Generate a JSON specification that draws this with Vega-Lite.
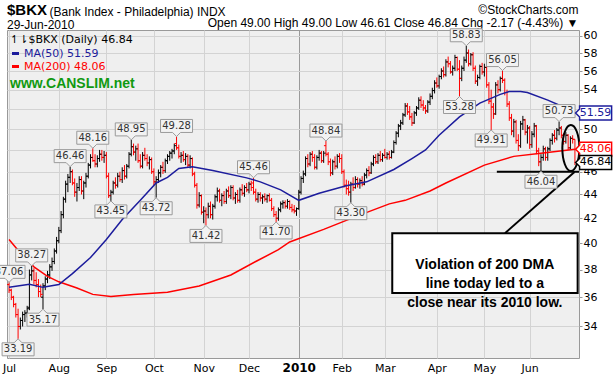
{
"$schema":"https://vega.github.io/schema/vega-lite/v6.json",
"width":572,"height":328,
"autosize":{"type":"none"},
"padding":{"left":7,"top":30,"right":36,"bottom":17},
"background":"white",
"config":{"view":{"fill":"#efefef","stroke":"#999999","strokeWidth":1}},
"title":{"text":"$BKX","subtitle":"29-Jun-2010","anchor":"start","frame":"group","font":"Liberation Sans","fontSize":15,"fontWeight":"bold","color":"#000000","subtitleFont":"Liberation Sans","subtitleFontSize":12,"subtitleColor":"#000000","subtitlePadding":2,"offset":0,"dy":28},
"datasets":{
"ohlc":[
{"i":0,"o":36.9,"h":37.06,"l":36.3,"c":36.5},{"i":1,"o":36.5,"h":36.6,"l":35.8,"c":36.0},{"i":2,"o":36.0,"h":36.1,"l":35.3,"c":35.5},{"i":3,"o":35.5,"h":35.6,"l":34.6,"c":34.8},{"i":4,"o":34.8,"h":35.2,"l":33.19,"c":34.0},{"i":5,"o":34.0,"h":34.6,"l":33.8,"c":34.4},{"i":6,"o":34.4,"h":35.0,"l":34.0,"c":34.8},{"i":7,"o":34.8,"h":35.1,"l":34.3,"c":34.9},{"i":8,"o":34.9,"h":35.4,"l":34.6,"c":35.2},{"i":9,"o":35.3,"h":38.0,"l":35.1,"c":37.6},
{"i":10,"o":37.6,"h":38.27,"l":37.2,"c":37.9},{"i":11,"o":37.9,"h":38.1,"l":36.9,"c":37.2},{"i":12,"o":37.2,"h":37.8,"l":36.7,"c":36.9},{"i":13,"o":36.9,"h":37.3,"l":36.0,"c":36.4},{"i":14,"o":36.4,"h":36.9,"l":36.0,"c":36.2},{"i":15,"o":36.0,"h":37.0,"l":35.17,"c":36.8},{"i":16,"o":36.8,"h":37.5,"l":36.5,"c":37.3},{"i":17,"o":37.3,"h":37.9,"l":37.0,"c":37.6},{"i":18,"o":37.6,"h":38.4,"l":37.3,"c":38.2},{"i":19,"o":38.2,"h":38.9,"l":37.9,"c":38.6},
{"i":20,"o":38.6,"h":39.6,"l":38.4,"c":39.4},{"i":21,"o":39.4,"h":40.5,"l":39.2,"c":40.2},{"i":22,"o":40.2,"h":41.3,"l":40.0,"c":41.0},{"i":23,"o":41.0,"h":42.6,"l":40.8,"c":42.3},{"i":24,"o":42.3,"h":43.8,"l":42.0,"c":43.6},{"i":25,"o":43.6,"h":45.2,"l":43.3,"c":44.9},{"i":26,"o":44.9,"h":45.8,"l":44.2,"c":45.5},{"i":27,"o":45.5,"h":46.46,"l":45.0,"c":46.0},{"i":28,"o":46.0,"h":46.2,"l":44.8,"c":45.0},{"i":29,"o":45.0,"h":45.4,"l":43.8,"c":44.2},
{"i":30,"o":44.2,"h":45.0,"l":43.4,"c":44.6},{"i":31,"o":44.6,"h":45.6,"l":44.3,"c":45.3},{"i":32,"o":45.3,"h":45.6,"l":44.0,"c":44.3},{"i":33,"o":44.3,"h":45.2,"l":43.6,"c":45.0},{"i":34,"o":45.0,"h":45.9,"l":44.6,"c":45.6},{"i":35,"o":45.6,"h":46.8,"l":45.4,"c":46.6},{"i":36,"o":46.6,"h":47.6,"l":46.3,"c":47.3},{"i":37,"o":47.3,"h":48.16,"l":46.9,"c":47.0},{"i":38,"o":47.0,"h":47.6,"l":46.4,"c":46.7},{"i":39,"o":46.7,"h":47.5,"l":46.4,"c":47.2},
{"i":40,"o":47.2,"h":48.0,"l":46.9,"c":47.6},{"i":41,"o":47.6,"h":48.0,"l":47.0,"c":47.3},{"i":42,"o":47.3,"h":47.9,"l":46.8,"c":47.5},{"i":43,"o":47.5,"h":47.8,"l":45.4,"c":45.6},{"i":44,"o":45.6,"h":45.9,"l":43.7,"c":43.9},{"i":45,"o":43.9,"h":44.4,"l":43.45,"c":44.2},{"i":46,"o":44.2,"h":45.2,"l":44.0,"c":45.0},{"i":47,"o":45.0,"h":45.5,"l":44.5,"c":44.8},{"i":48,"o":44.8,"h":45.9,"l":44.6,"c":45.6},{"i":49,"o":45.6,"h":46.0,"l":45.1,"c":45.3},
{"i":50,"o":45.3,"h":46.4,"l":45.0,"c":46.1},{"i":51,"o":46.1,"h":46.6,"l":45.3,"c":45.6},{"i":52,"o":45.6,"h":46.7,"l":45.4,"c":46.5},{"i":53,"o":46.5,"h":47.8,"l":46.3,"c":47.6},{"i":54,"o":47.6,"h":48.95,"l":47.4,"c":48.3},{"i":55,"o":48.3,"h":48.6,"l":47.5,"c":47.8},{"i":56,"o":47.8,"h":48.4,"l":47.0,"c":48.1},{"i":57,"o":48.1,"h":48.6,"l":46.8,"c":47.0},{"i":58,"o":47.0,"h":47.6,"l":46.3,"c":46.5},{"i":59,"o":46.5,"h":47.8,"l":46.3,"c":47.5},
{"i":60,"o":47.5,"h":48.2,"l":47.0,"c":47.2},{"i":61,"o":47.2,"h":47.6,"l":46.5,"c":46.8},{"i":62,"o":46.8,"h":47.4,"l":46.2,"c":47.1},{"i":63,"o":47.1,"h":47.3,"l":45.8,"c":46.0},{"i":64,"o":46.0,"h":46.3,"l":44.8,"c":45.1},{"i":65,"o":45.1,"h":45.6,"l":43.72,"c":45.3},{"i":66,"o":45.3,"h":46.2,"l":45.0,"c":45.9},{"i":67,"o":45.9,"h":46.6,"l":45.5,"c":46.4},{"i":68,"o":46.4,"h":46.9,"l":45.8,"c":46.1},{"i":69,"o":46.1,"h":47.2,"l":45.9,"c":47.0},
{"i":70,"o":47.0,"h":47.6,"l":46.7,"c":47.4},{"i":71,"o":47.4,"h":47.9,"l":47.0,"c":47.7},{"i":72,"o":47.7,"h":48.1,"l":47.2,"c":47.9},{"i":73,"o":47.9,"h":48.6,"l":47.6,"c":48.4},{"i":74,"o":48.6,"h":49.28,"l":48.0,"c":48.2},{"i":75,"o":48.2,"h":48.5,"l":47.2,"c":47.4},{"i":76,"o":47.4,"h":47.8,"l":46.8,"c":47.5},{"i":77,"o":47.5,"h":47.9,"l":46.9,"c":47.1},{"i":78,"o":47.1,"h":47.7,"l":46.6,"c":47.4},{"i":79,"o":47.4,"h":47.6,"l":46.4,"c":46.6},
{"i":80,"o":46.6,"h":47.5,"l":46.3,"c":47.2},{"i":81,"o":47.2,"h":47.3,"l":45.6,"c":45.8},{"i":82,"o":45.8,"h":46.0,"l":44.6,"c":44.8},{"i":83,"o":44.8,"h":45.0,"l":42.8,"c":43.1},{"i":84,"o":43.1,"h":44.2,"l":42.9,"c":43.9},{"i":85,"o":43.9,"h":44.0,"l":42.3,"c":42.5},{"i":86,"o":42.5,"h":43.0,"l":41.6,"c":42.6},{"i":87,"o":42.6,"h":42.9,"l":41.42,"c":42.3},{"i":88,"o":42.3,"h":43.3,"l":42.0,"c":43.0},{"i":89,"o":43.0,"h":43.4,"l":42.0,"c":42.3},
{"i":90,"o":42.3,"h":43.2,"l":41.9,"c":43.0},{"i":91,"o":43.0,"h":44.0,"l":42.8,"c":43.8},{"i":92,"o":43.8,"h":44.6,"l":43.4,"c":44.3},{"i":93,"o":44.3,"h":44.5,"l":43.3,"c":43.5},{"i":94,"o":43.5,"h":44.1,"l":43.0,"c":43.9},{"i":95,"o":43.9,"h":44.3,"l":43.2,"c":43.4},{"i":96,"o":43.4,"h":44.5,"l":43.2,"c":44.3},{"i":97,"o":44.3,"h":44.7,"l":43.7,"c":43.9},{"i":98,"o":43.9,"h":44.8,"l":43.6,"c":44.6},{"i":99,"o":44.6,"h":44.8,"l":43.5,"c":43.7},
{"i":100,"o":43.7,"h":44.2,"l":43.2,"c":44.0},{"i":101,"o":44.0,"h":44.4,"l":43.3,"c":43.5},{"i":102,"o":43.5,"h":44.6,"l":43.3,"c":44.4},{"i":103,"o":44.4,"h":44.9,"l":43.9,"c":44.1},{"i":104,"o":44.1,"h":44.8,"l":43.8,"c":44.6},{"i":105,"o":44.6,"h":45.0,"l":44.2,"c":44.4},{"i":106,"o":44.4,"h":45.1,"l":44.1,"c":44.9},{"i":107,"o":44.9,"h":45.2,"l":44.3,"c":44.6},{"i":108,"o":45.0,"h":45.46,"l":44.0,"c":44.2},{"i":109,"o":44.2,"h":44.5,"l":43.4,"c":43.6},
{"i":110,"o":43.6,"h":44.2,"l":43.3,"c":44.0},{"i":111,"o":44.0,"h":44.2,"l":43.4,"c":43.7},{"i":112,"o":43.7,"h":44.0,"l":43.2,"c":43.8},{"i":113,"o":43.8,"h":44.1,"l":43.4,"c":43.6},{"i":114,"o":43.6,"h":44.0,"l":43.3,"c":43.9},{"i":115,"o":43.9,"h":44.1,"l":43.4,"c":43.5},{"i":116,"o":43.5,"h":43.7,"l":42.6,"c":42.8},{"i":117,"o":42.8,"h":43.0,"l":42.1,"c":42.3},{"i":118,"o":42.3,"h":42.6,"l":41.7,"c":42.0},{"i":119,"o":42.0,"h":42.9,"l":41.8,"c":42.7},
{"i":120,"o":42.7,"h":43.4,"l":42.5,"c":43.2},{"i":121,"o":43.2,"h":43.5,"l":42.8,"c":43.3},{"i":122,"o":43.3,"h":43.5,"l":42.8,"c":43.0},{"i":123,"o":43.0,"h":43.6,"l":42.8,"c":43.4},{"i":124,"o":43.4,"h":43.5,"l":42.7,"c":42.9},{"i":125,"o":42.9,"h":43.2,"l":42.5,"c":42.7},{"i":126,"o":42.7,"h":43.1,"l":42.4,"c":42.6},{"i":127,"o":42.6,"h":42.9,"l":42.2,"c":42.8},{"i":128,"o":42.8,"h":44.4,"l":42.7,"c":44.2},{"i":129,"o":44.2,"h":45.6,"l":44.0,"c":45.4},
{"i":130,"o":45.4,"h":46.1,"l":45.0,"c":45.8},{"i":131,"o":45.8,"h":47.4,"l":45.6,"c":47.2},{"i":132,"o":47.2,"h":47.6,"l":46.4,"c":46.7},{"i":133,"o":46.7,"h":47.8,"l":46.5,"c":47.6},{"i":134,"o":47.6,"h":47.9,"l":46.9,"c":47.3},{"i":135,"o":47.3,"h":47.6,"l":46.2,"c":46.4},{"i":136,"o":46.4,"h":47.5,"l":46.2,"c":47.3},{"i":137,"o":47.3,"h":48.0,"l":47.0,"c":47.7},{"i":138,"o":47.7,"h":47.9,"l":46.8,"c":47.0},{"i":139,"o":47.0,"h":47.9,"l":46.8,"c":47.7},
{"i":140,"o":48.4,"h":48.84,"l":47.4,"c":47.6},{"i":141,"o":47.6,"h":47.8,"l":46.6,"c":46.9},{"i":142,"o":46.9,"h":47.2,"l":45.6,"c":45.9},{"i":143,"o":45.9,"h":47.1,"l":45.7,"c":46.9},{"i":144,"o":46.9,"h":47.4,"l":46.2,"c":46.5},{"i":145,"o":46.5,"h":47.6,"l":46.3,"c":47.4},{"i":146,"o":47.4,"h":47.7,"l":46.8,"c":47.2},{"i":147,"o":47.2,"h":47.6,"l":45.8,"c":46.0},{"i":148,"o":46.0,"h":46.2,"l":44.6,"c":44.8},{"i":149,"o":44.8,"h":45.3,"l":44.0,"c":44.5},
{"i":150,"o":44.5,"h":45.2,"l":43.9,"c":44.2},{"i":151,"o":44.2,"h":45.1,"l":43.3,"c":44.9},{"i":152,"o":44.9,"h":45.5,"l":44.3,"c":44.6},{"i":153,"o":44.6,"h":45.6,"l":44.5,"c":45.3},{"i":154,"o":45.3,"h":45.5,"l":44.6,"c":44.9},{"i":155,"o":44.9,"h":45.4,"l":44.5,"c":45.2},{"i":156,"o":45.2,"h":45.6,"l":44.7,"c":44.9},{"i":157,"o":44.9,"h":45.9,"l":44.8,"c":45.7},{"i":158,"o":45.7,"h":46.3,"l":45.4,"c":46.1},{"i":159,"o":46.1,"h":46.5,"l":45.6,"c":45.9},
{"i":160,"o":45.9,"h":46.9,"l":45.8,"c":46.7},{"i":161,"o":46.7,"h":47.5,"l":46.5,"c":47.3},{"i":162,"o":47.3,"h":47.6,"l":46.7,"c":46.9},{"i":163,"o":46.9,"h":47.7,"l":46.7,"c":47.5},{"i":164,"o":47.5,"h":47.9,"l":46.9,"c":47.1},{"i":165,"o":47.1,"h":47.7,"l":46.9,"c":47.5},{"i":166,"o":47.5,"h":48.1,"l":47.2,"c":47.3},{"i":167,"o":47.3,"h":47.8,"l":47.1,"c":47.6},{"i":168,"o":47.6,"h":47.9,"l":47.1,"c":47.3},{"i":169,"o":47.3,"h":48.0,"l":47.2,"c":47.8},
{"i":170,"o":47.8,"h":48.9,"l":47.7,"c":48.7},{"i":171,"o":48.7,"h":49.8,"l":48.5,"c":49.6},{"i":172,"o":49.6,"h":50.5,"l":49.2,"c":50.3},{"i":173,"o":50.3,"h":50.9,"l":49.9,"c":50.6},{"i":174,"o":50.6,"h":51.6,"l":50.4,"c":51.4},{"i":175,"o":51.4,"h":52.6,"l":51.2,"c":52.3},{"i":176,"o":52.3,"h":52.6,"l":51.4,"c":51.7},{"i":177,"o":51.7,"h":52.3,"l":50.9,"c":51.2},{"i":178,"o":51.2,"h":51.6,"l":50.3,"c":50.6},{"i":179,"o":50.6,"h":51.8,"l":50.5,"c":51.6},
{"i":180,"o":51.6,"h":52.3,"l":51.3,"c":52.1},{"i":181,"o":52.1,"h":53.2,"l":51.9,"c":52.9},{"i":182,"o":52.9,"h":53.3,"l":52.1,"c":52.4},{"i":183,"o":52.4,"h":52.9,"l":51.8,"c":52.1},{"i":184,"o":52.1,"h":52.4,"l":51.5,"c":51.8},{"i":185,"o":51.8,"h":52.9,"l":51.6,"c":52.7},{"i":186,"o":52.7,"h":53.6,"l":52.4,"c":53.3},{"i":187,"o":53.3,"h":54.2,"l":53.0,"c":53.9},{"i":188,"o":53.9,"h":55.0,"l":53.6,"c":54.7},{"i":189,"o":54.7,"h":55.3,"l":54.2,"c":54.4},
{"i":190,"o":54.4,"h":55.6,"l":54.1,"c":55.4},{"i":191,"o":55.4,"h":56.3,"l":55.1,"c":56.0},{"i":192,"o":56.0,"h":56.5,"l":55.3,"c":55.6},{"i":193,"o":55.6,"h":57.3,"l":55.4,"c":57.0},{"i":194,"o":57.0,"h":57.6,"l":56.4,"c":56.8},{"i":195,"o":56.8,"h":57.1,"l":55.7,"c":55.9},{"i":196,"o":55.9,"h":56.6,"l":55.5,"c":56.3},{"i":197,"o":56.3,"h":57.8,"l":56.0,"c":57.5},{"i":198,"o":57.5,"h":57.6,"l":56.0,"c":56.2},{"i":199,"o":56.2,"h":57.2,"l":53.28,"c":55.2},
{"i":200,"o":55.2,"h":56.6,"l":54.9,"c":56.3},{"i":201,"o":56.3,"h":57.6,"l":56.0,"c":57.2},{"i":202,"o":57.2,"h":58.83,"l":56.9,"c":58.0},{"i":203,"o":58.0,"h":58.4,"l":56.5,"c":56.8},{"i":204,"o":56.8,"h":58.0,"l":56.6,"c":57.8},{"i":205,"o":57.8,"h":58.1,"l":56.0,"c":56.3},{"i":206,"o":56.3,"h":56.6,"l":54.6,"c":54.9},{"i":207,"o":54.9,"h":55.6,"l":54.4,"c":55.3},{"i":208,"o":55.3,"h":56.7,"l":55.1,"c":56.5},{"i":209,"o":56.5,"h":56.9,"l":55.6,"c":55.9},
{"i":210,"o":55.9,"h":56.8,"l":55.4,"c":56.4},{"i":211,"o":56.4,"h":56.6,"l":54.2,"c":54.5},{"i":212,"o":54.5,"h":54.8,"l":52.5,"c":52.8},{"i":213,"o":52.8,"h":54.0,"l":49.91,"c":52.2},{"i":214,"o":52.2,"h":52.6,"l":51.0,"c":51.5},{"i":215,"o":51.5,"h":54.8,"l":51.4,"c":54.5},{"i":216,"o":54.5,"h":55.0,"l":53.6,"c":54.0},{"i":217,"o":54.0,"h":55.4,"l":53.8,"c":55.2},{"i":218,"o":55.2,"h":56.05,"l":54.7,"c":55.0},{"i":219,"o":55.0,"h":55.2,"l":53.4,"c":53.7},
{"i":220,"o":53.7,"h":54.0,"l":52.2,"c":52.5},{"i":221,"o":52.5,"h":52.8,"l":50.8,"c":51.1},{"i":222,"o":51.1,"h":51.5,"l":49.4,"c":49.8},{"i":223,"o":49.8,"h":51.0,"l":49.2,"c":50.7},{"i":224,"o":50.7,"h":50.9,"l":48.6,"c":48.9},{"i":225,"o":48.9,"h":49.5,"l":47.9,"c":48.4},{"i":226,"o":48.4,"h":50.8,"l":48.2,"c":50.5},{"i":227,"o":50.5,"h":51.3,"l":49.9,"c":50.9},{"i":228,"o":50.9,"h":51.0,"l":49.4,"c":49.7},{"i":229,"o":49.7,"h":50.4,"l":48.6,"c":50.1},
{"i":230,"o":50.1,"h":50.3,"l":48.1,"c":48.5},{"i":231,"o":48.5,"h":49.8,"l":48.2,"c":49.5},{"i":232,"o":49.5,"h":50.6,"l":49.2,"c":50.3},{"i":233,"o":50.3,"h":50.4,"l":47.6,"c":47.9},{"i":234,"o":47.9,"h":48.2,"l":46.5,"c":46.9},{"i":235,"o":46.9,"h":47.6,"l":46.04,"c":47.3},{"i":236,"o":47.3,"h":48.4,"l":47.0,"c":48.1},{"i":237,"o":48.1,"h":48.3,"l":47.0,"c":47.3},{"i":238,"o":47.3,"h":48.3,"l":47.0,"c":48.1},{"i":239,"o":48.1,"h":49.1,"l":47.9,"c":48.9},
{"i":240,"o":48.9,"h":49.6,"l":48.5,"c":49.4},{"i":241,"o":49.4,"h":49.9,"l":48.7,"c":49.1},{"i":242,"o":49.1,"h":50.1,"l":48.9,"c":49.9},{"i":243,"o":49.9,"h":50.73,"l":49.4,"c":50.1},{"i":244,"o":50.1,"h":50.3,"l":49.1,"c":49.4},{"i":245,"o":49.4,"h":49.6,"l":48.5,"c":48.8},{"i":246,"o":48.8,"h":49.7,"l":48.6,"c":49.4},{"i":247,"o":49.4,"h":49.5,"l":48.0,"c":48.2},{"i":248,"o":48.2,"h":49.3,"l":48.0,"c":49.1},{"i":249,"o":49.1,"h":49.4,"l":48.6,"c":49.01},
{"i":250,"o":49.0,"h":49.0,"l":46.61,"c":46.84}
],
"ma50":[{"i":0,"v":36.7},{"i":9,"v":36.93},{"i":15,"v":36.7},{"i":22,"v":36.9},{"i":28,"v":37.7},{"i":36,"v":38.9},{"i":43,"v":40.3},{"i":50,"v":41.9},{"i":58,"v":43.5},{"i":65,"v":45.0},{"i":70,"v":45.5},{"i":75,"v":46.3},{"i":81,"v":46.45},{"i":90,"v":46.1},{"i":105,"v":45.45},{"i":111,"v":45.1},{"i":120,"v":44.4},{"i":128,"v":43.5},{"i":137,"v":44.1},{"i":149,"v":44.75},{"i":158,"v":45.1},{"i":170,"v":46.2},{"i":178,"v":47.2},{"i":184,"v":48.0},{"i":190,"v":49.4},{"i":199,"v":51.2},{"i":208,"v":52.6},{"i":217,"v":53.5},{"i":221,"v":53.8},{"i":226,"v":53.8},{"i":229,"v":53.7},{"i":238,"v":52.9},{"i":246,"v":52.1},{"i":250,"v":51.59}],
"ma200":[{"i":0,"v":40.3},{"i":5,"v":39.25},{"i":11,"v":38.2},{"i":17,"v":37.5},{"i":22,"v":37.1},{"i":30,"v":36.65},{"i":37,"v":36.2},{"i":45,"v":36.05},{"i":55,"v":36.2},{"i":70,"v":36.35},{"i":84,"v":36.8},{"i":98,"v":37.6},{"i":109,"v":38.6},{"i":119,"v":39.5},{"i":124,"v":40.1},{"i":139,"v":41.1},{"i":154,"v":42.2},{"i":168,"v":43.2},{"i":175,"v":43.5},{"i":186,"v":44.3},{"i":193,"v":45.0},{"i":210,"v":46.6},{"i":223,"v":47.4},{"i":235,"v":47.7},{"i":250,"v":48.06}],
"pivots":[{"i":0,"v":37.06,"k":"high"},{"i":4,"v":33.19,"k":"low"},{"i":10,"v":38.27,"k":"high"},{"i":15,"v":35.17,"k":"low"},{"i":27,"v":46.46,"k":"high"},{"i":37,"v":48.16,"k":"high"},{"i":45,"v":43.45,"k":"low"},{"i":54,"v":48.95,"k":"high"},{"i":65,"v":43.72,"k":"low"},{"i":74,"v":49.28,"k":"high"},{"i":87,"v":41.42,"k":"low"},{"i":108,"v":45.46,"k":"high"},{"i":118,"v":41.70,"k":"low"},{"i":140,"v":48.84,"k":"high"},{"i":151,"v":43.30,"k":"low"},{"i":199,"v":53.28,"k":"low"},{"i":202,"v":58.83,"k":"high"},{"i":213,"v":49.91,"k":"low"},{"i":218,"v":56.05,"k":"high"},{"i":235,"v":46.04,"k":"low"},{"i":243,"v":50.73,"k":"high"}],
"tags":[{"v":51.59,"s":"ma50"},{"v":48.06,"s":"ma200"},{"v":46.84,"s":"close"}]
},
"layer":[
{"data":{"name":"ohlc"},
 "transform":[{"window":[{"op":"lag","field":"c","as":"pc"}],"sort":[{"field":"i","order":"ascending"}]}],
 "encoding":{
  "x":{"field":"i","type":"quantitative","scale":{"domain":[-0.9,251.8],"nice":false,"zero":false},
   "axis":{"values":[0,22,43,64,86,106,128,147,166,189,210,230],
    "labelExpr":"['Jul','Aug','Sep','Oct','Nov','Dec','2010','Feb','Mar','Apr','May','Jun'][indexof([0,22,43,64,86,106,128,147,166,189,210,230], datum.value)]",
    "grid":true,"gridColor":{"condition":{"test":"datum.value == 128","value":"#9a9a9a"},"value":"#d3d3d3"},
    "ticks":false,"domain":false,"labelPadding":4,"labelFlush":false,"labelOverlap":false,
    "labelFont":"DejaVu Sans","labelFontSize":{"condition":{"test":"datum.value == 128","value":12},"value":11},
    "labelFontWeight":{"condition":{"test":"datum.value == 128","value":"bold"},"value":"normal"},"labelColor":"#000000",
    "title":"(Bank Index - Philadelphia) INDX","titleX":42,"titleY":-343,"titleAlign":"left","titleAnchor":"start","titleBaseline":"alphabetic",
    "titleFont":"Liberation Sans","titleFontSize":12,"titleFontWeight":"normal","titleColor":"#000000"}},
  "color":{"condition":{"test":"datum.pc == null ? datum.c < datum.o : datum.c < datum.pc","value":"#ff0000"},"value":"#000000"}
 },
 "layer":[
  {"mark":{"type":"rule","strokeWidth":1},
   "encoding":{"y":{"field":"l","type":"quantitative","scale":{"type":"log","domain":[31.97,60.67],"nice":false,"zero":false},
     "axis":{"orient":"right","values":[34,36,38,40,42,44,46,48,50,52,54,56,58,60],"format":"d",
      "labelExpr":"datum.value == 48 || datum.value == 52 ? '' : datum.label",
      "grid":true,"gridColor":"#d3d3d3",
      "domain":false,"ticks":true,"tickSize":3,"tickColor":"#999999","labelPadding":1,"labelFont":"DejaVu Sans","labelFontSize":11,"labelColor":"#000000",
      "title":["©StockCharts.com","Open 49.00 High 49.00 Low 46.61 Close 46.84 Chg -2.17 (-4.43%) ▼"],"titleAngle":0,"titleAlign":"right","titleBaseline":"alphabetic",
      "titleX":-1,"titleY":-17,"titleFont":"Liberation Sans","titleFontSize":12,"titleFontWeight":"normal","titleColor":"#000000","titleLineHeight":13}},
    "y2":{"field":"h"}}},
  {"mark":{"type":"rule","strokeWidth":1,"xOffset":-2},"encoding":{"x2":{"field":"i"},"y":{"field":"o","type":"quantitative"}}},
  {"mark":{"type":"rule","strokeWidth":1,"x2Offset":2},"encoding":{"x2":{"field":"i"},"y":{"field":"c","type":"quantitative"}}}
 ]
},
{"data":{"name":"ma200"},"mark":{"type":"line","strokeWidth":1.5},
 "encoding":{"x":{"field":"i","type":"quantitative"},"y":{"field":"v","type":"quantitative"},
  "stroke":{"datum":"MA(200) 48.06","scale":{"range":["#ff0000"]},
   "legend":{"title":"www.CANSLIM.net","titleOrient":"bottom","orient":"none","legendX":3,"legendY":31,"padding":0,"titleFont":"Liberation Sans","titleFontSize":14,"titleFontWeight":"bold","titleColor":"#119911","titlePadding":4,"titleLimit":300,
    "labelFont":"DejaVu Sans","labelFontSize":11,"labelColor":"#ff0000","labelOffset":3,"symbolType":"stroke","symbolSize":49,"symbolStrokeWidth":3}}}},
{"data":{"name":"ma50"},"mark":{"type":"line","strokeWidth":1.5},
 "encoding":{"x":{"field":"i","type":"quantitative"},"y":{"field":"v","type":"quantitative"},
  "color":{"datum":"MA(50) 51.59","scale":{"range":["#1c1c9c"]},
   "legend":{"title":"↿⇂$BKX (Daily) 46.84","orient":"none","legendX":3,"legendY":4,"padding":0,"titleFont":"DejaVu Sans","titleFontSize":11,"titleFontWeight":"normal","titleColor":"#000000","titlePadding":3,"titleLimit":300,
    "labelFont":"DejaVu Sans","labelFontSize":11,"labelColor":"#1c1c9c","labelOffset":3,"symbolType":"stroke","symbolSize":49,"symbolStrokeWidth":3}}}},
{"data":{"values":[{"note":"support"}]},"mark":{"type":"rule","strokeWidth":2,"color":"#000000"},
 "encoding":{"x":{"datum":215.5},"x2":{"datum":251.8},"y":{"datum":46.0}}},
{"data":{"values":[{"note":"pointer"}]},"mark":{"type":"rule","strokeWidth":2,"color":"#000000"},
 "encoding":{"x":{"datum":219.1},"y":{"datum":40.8},"x2":{"datum":249.8},"y2":{"datum":45.97}}},
{"data":{"values":[{"note":"callout"}]},"mark":{"type":"rect","fill":"#ffffff","stroke":"#000000","strokeWidth":2},
 "encoding":{"x":{"datum":169.3},"x2":{"datum":251.2},"y":{"datum":40.8},"y2":{"datum":36.3}}},
{"data":{"values":[{"note":"Violation of 200 DMA\nline today led to a\nclose near its 2010 low."}]},
 "mark":{"type":"text","font":"Liberation Sans","fontSize":14,"fontWeight":"bold","align":"center","baseline":"middle","lineBreak":"\n","lineHeight":19,"color":"#000000"},
 "encoding":{"x":{"datum":210.2},"y":{"datum":38.35},"text":{"field":"note"}}},
{"data":{"values":[{"note":"ellipse"}]},
 "mark":{"type":"point","shape":"M0,-1 C0.204,-1 0.37,-0.552 0.37,0 C0.37,0.552 0.204,1 0,1 C-0.204,1 -0.37,0.552 -0.37,0 C-0.37,-0.552 -0.204,-1 0,-1 Z","size":2116,"filled":false,"stroke":"#000000","strokeWidth":2,"opacity":1},
 "encoding":{"x":{"datum":248.2},"y":{"datum":48.18}}},
{"data":{"name":"pivots"},"transform":[{"filter":"datum.k == 'high'"}],
 "layer":[
  {"mark":{"type":"point","shape":"M0,0 L-0.25,-0.25 L-1,-0.25 L-1,-1.0625 L1,-1.0625 L1,-0.25 L0.25,-0.25 Z","size":1024,"filled":true,"fill":"#f2f2f2","stroke":"#9a9a9a","strokeWidth":1,"opacity":1},
   "encoding":{"x":{"field":"i","type":"quantitative"},"y":{"field":"v","type":"quantitative"}}},
  {"mark":{"type":"text","font":"DejaVu Sans","fontSize":10,"dy":-10.5,"baseline":"middle","align":"center","color":"#333333"},
   "encoding":{"x":{"field":"i","type":"quantitative"},"y":{"field":"v","type":"quantitative"},"text":{"field":"v","type":"quantitative","format":".2f"}}}
 ]},
{"data":{"name":"pivots"},"transform":[{"filter":"datum.k == 'low'"}],
 "layer":[
  {"mark":{"type":"point","shape":"M0,0 L-0.25,0.25 L-1,0.25 L-1,1.0625 L1,1.0625 L1,0.25 L0.25,0.25 Z","size":1024,"filled":true,"fill":"#f2f2f2","stroke":"#9a9a9a","strokeWidth":1,"opacity":1},
   "encoding":{"x":{"field":"i","type":"quantitative"},"y":{"field":"v","type":"quantitative"}}},
  {"mark":{"type":"text","font":"DejaVu Sans","fontSize":10,"dy":10.5,"baseline":"middle","align":"center","color":"#333333"},
   "encoding":{"x":{"field":"i","type":"quantitative"},"y":{"field":"v","type":"quantitative"},"text":{"field":"v","type":"quantitative","format":".2f"}}}
 ]},
{"data":{"name":"tags"},
 "layer":[
  {"mark":{"type":"point","shape":"M0,0 L0.25,-0.25 L0.25,-0.4375 L2.25,-0.4375 L2.25,0.4375 L0.25,0.4375 L0.25,0.25 Z","size":1024,"filled":true,"fill":"#ffffff","strokeWidth":1.5,"opacity":1},
   "encoding":{"x":{"datum":250.3},"y":{"field":"v","type":"quantitative"},
    "stroke":{"condition":[{"test":"datum.s == 'ma50'","value":"#1c1c9c"},{"test":"datum.s == 'ma200'","value":"#ff0000"}],"value":"#000000"}}},
  {"mark":{"type":"text","font":"DejaVu Sans","fontSize":11,"dx":20,"baseline":"middle","align":"center"},
   "encoding":{"x":{"datum":250.3},"y":{"field":"v","type":"quantitative"},"text":{"field":"v","type":"quantitative","format":".2f"},
    "color":{"condition":[{"test":"datum.s == 'ma50'","value":"#1c1c9c"},{"test":"datum.s == 'ma200'","value":"#ff0000"}],"value":"#000000"},
    "fontWeight":{"condition":{"test":"datum.s == 'close'","value":"bold"},"value":"normal"}}}
 ]}
]
}
